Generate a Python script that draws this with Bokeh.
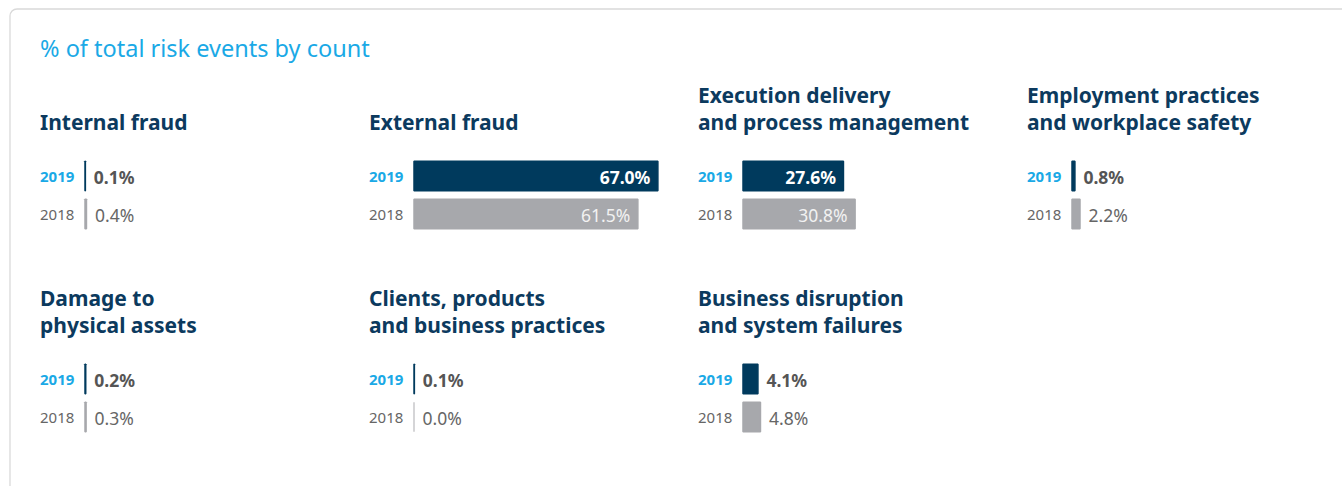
from bokeh.plotting import figure
from bokeh.models import Range1d, ColumnDataSource, BoxAnnotation
from bokeh.core.properties import value
from bokeh.embed import file_html
from bokeh.resources import INLINE

# ---- data ----
categories = [
    "Internal fraud",
    "External fraud",
    "Execution delivery\nand process management",
    "Employment practices\nand workplace safety",
    "Damage to\nphysical assets",
    "Clients, products\nand business practices",
    "Business disruption\nand system failures",
]
years = ["2019", "2018"]
v2019 = [0.1, 67.0, 27.6, 0.8, 0.2, 0.1, 4.1]
v2018 = [0.4, 61.5, 30.8, 2.2, 0.3, 0.0, 4.8]
header = "% of total risk events by count"

# ---- layout / style ----
W, H = 1342, 486
FONT = "Noto Sans"
NAVY = "#003A5D"
GREY_BAR = "#A7A8AC"
BLUE = "#1AA9E6"
TITLE_C = "#0C3A5E"
COL_W = 329
ROW_H = 203
X0 = 39.5
BAR_OFF = 45
PX_PER_PCT = 3.64

p = figure(width=W, height=H, output_backend="svg", toolbar_location=None,
           x_range=Range1d(0, W), y_range=Range1d(H, 0),
           min_border=0, outline_line_color=None)
p.axis.visible = False
p.grid.visible = False
p.background_fill_color = "white"
p.border_fill_color = "white"

# frame of the card
p.add_layout(BoxAnnotation(left=9.5, right=W + 40, top=8.5, bottom=H + 40,
                           fill_alpha=0, line_color="#808080", line_width=1.3,
                           border_radius=7))

bars = dict(left=[], right=[], top=[], bottom=[], color=[])
for i, cat in enumerate(categories):
    col = i % 4
    row = i // 4
    cx = X0 + col * COL_W
    oy = row * ROW_H
    bx = cx + BAR_OFF
    for j, (yr, vals) in enumerate(zip(years, [v2019, v2018])):
        v = vals[i]
        top = oy + 160 + j * 38
        bottom = top + 31
        right = bx + v * PX_PER_PCT
        bars["left"].append(bx)
        bars["right"].append(right)
        bars["top"].append(top + 0.75)
        bars["bottom"].append(bottom - 0.75)
        c = NAVY if j == 0 else GREY_BAR
        if v == 0:
            c = "#C8C8CA"
        bars["color"].append(c)

src = ColumnDataSource(bars)
p.quad(left="left", right="right", top="top", bottom="bottom", source=src,
       fill_color="color", line_color="color", line_width=1.5)

# header
p.text(x=[X0], y=[47], text=[header], text_font=value(FONT),
       text_font_size="23.5px", text_color=BLUE, text_baseline="alphabetic")

for i, cat in enumerate(categories):
    col = i % 4
    row = i // 4
    cx = X0 + col * COL_W
    oy = row * ROW_H
    lines = cat.split("\n")
    for k, ln in enumerate(reversed(lines)):
        p.text(x=[cx], y=[oy + 121 - 27 * k], text=[ln], text_font=value(FONT),
               text_font_size="21px", text_font_style="bold", text_color=TITLE_C,
               text_baseline="alphabetic")
    bx = cx + BAR_OFF
    for j, (yr, vals) in enumerate(zip(years, [v2019, v2018])):
        v = vals[i]
        top = oy + 160 + j * 38
        bottom = top + 31
        right = bx + v * PX_PER_PCT
        base = bottom - 14.5
        p.text(x=[cx], y=[base], text=[yr], text_font=value(FONT),
               text_font_size="15px",
               text_font_style="bold" if j == 0 else "normal",
               text_color=BLUE if j == 0 else "#666666",
               text_baseline="alphabetic")
        lab = f"{v:.1f}%"
        vbase = bottom - 15
        if v > 10:
            p.text(x=[right - 7.5], y=[vbase], text=[lab], text_font=value(FONT),
                   text_font_size="17.5px",
                   text_font_style="bold" if j == 0 else "normal",
                   text_color="white" if j == 0 else "#F2F2F2",
                   text_align="right", text_baseline="alphabetic")
        else:
            p.text(x=[right + 8.5], y=[vbase], text=[lab], text_font=value(FONT),
                   text_font_size="17.5px",
                   text_font_style="bold" if j == 0 else "normal",
                   text_color="#555555" if j == 0 else "#666666",
                   text_align="left", text_baseline="alphabetic")

open("out.html", "w").write(file_html(p, INLINE))
